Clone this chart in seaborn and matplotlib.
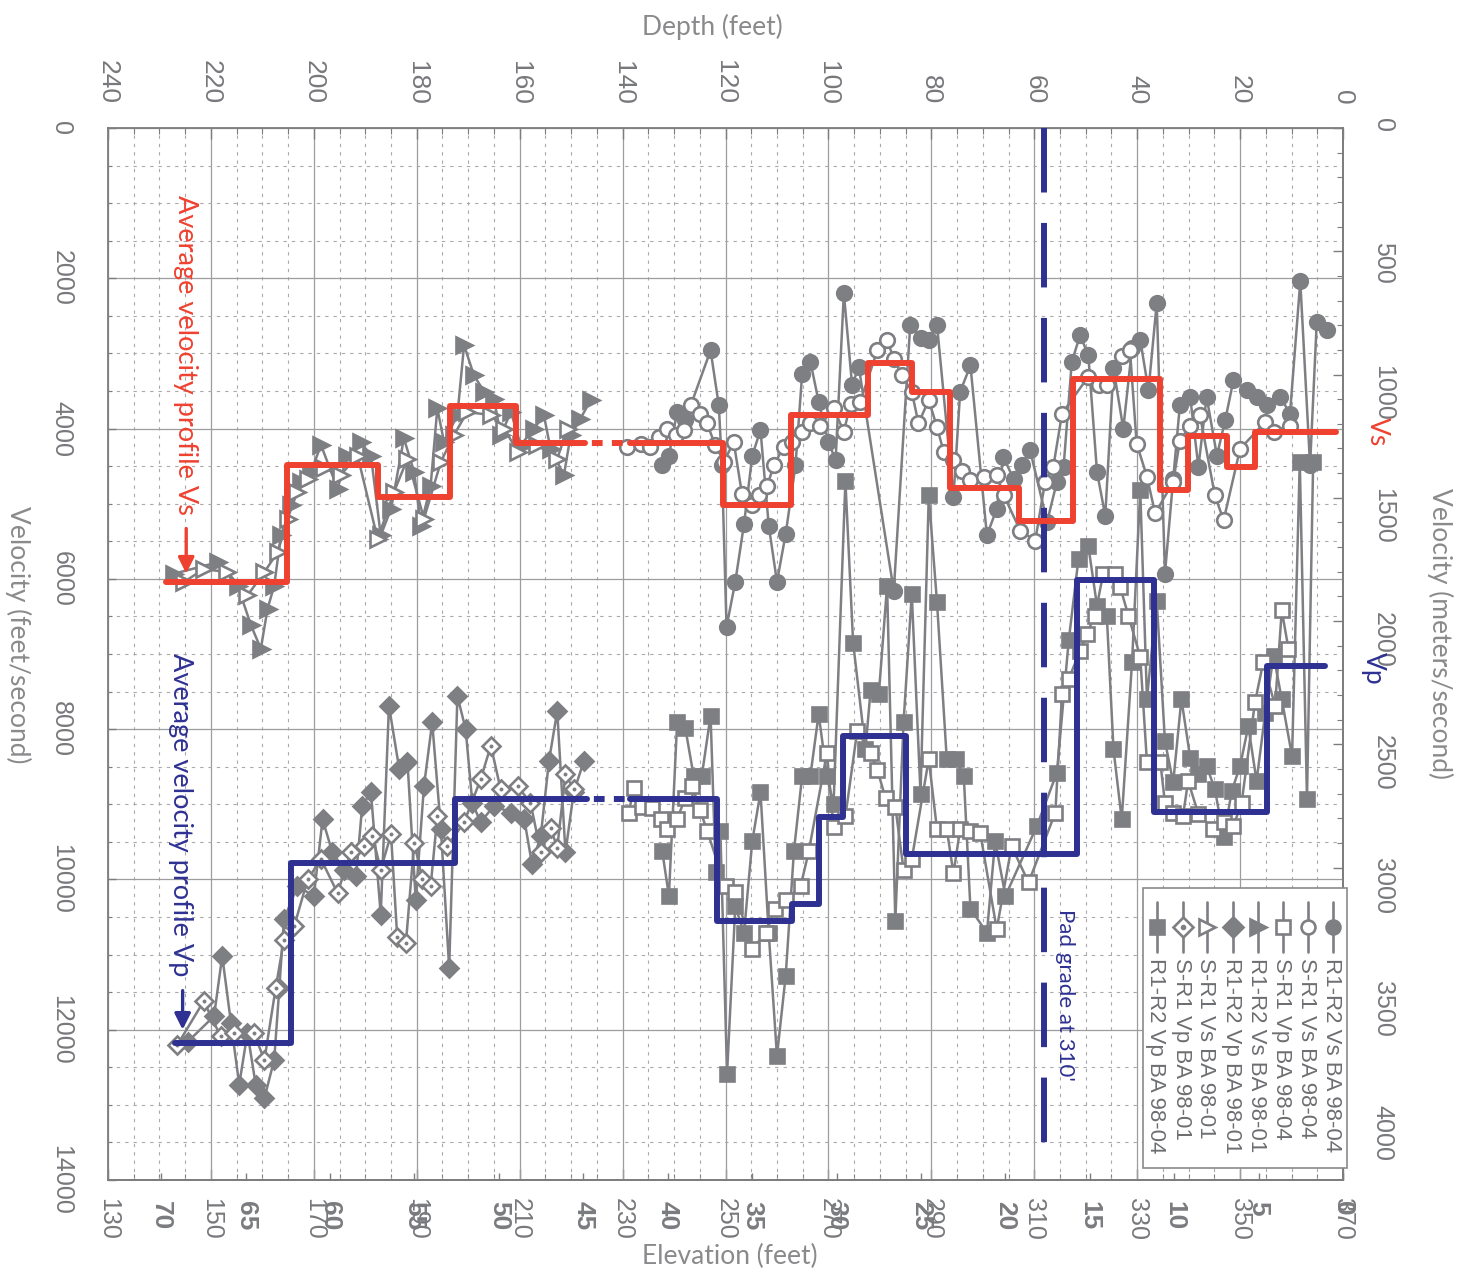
import numpy as np
import matplotlib
matplotlib.use("Agg")
import matplotlib.pyplot as plt
from matplotlib.lines import Line2D
from matplotlib.patches import Rectangle
from matplotlib.ticker import MultipleLocator, FixedLocator
import seaborn as sns

# ---------------------------------------------------------------- data
# Shear-wave (Vs) readings, borehole BA 98-01 (depth in feet, velocity in ft/s)
r1r2_vs_9801_depth = [227.1, 218.7, 214.8, 212.2, 210.3, 209.0, 207.7, 206.4, 204.5, 202.5, 200.6,
                      198.6, 195.4, 193.5, 190.9, 188.9, 187.0, 185.0, 182.5, 180.5, 179.2, 177.3,
                      176.0, 174.7, 172.1, 170.8, 168.9, 166.9, 165.0, 163.7, 161.7, 159.8, 157.2,
                      155.3, 154.0, 151.4, 150.1, 148.2, 146.2]
r1r2_vs_9801_vel = [5930, 5780, 6090, 6620, 6930, 6400, 6090, 5420, 5020, 4710, 4580,
                    4220, 4800, 4360, 4180, 4360, 5420, 5070, 4130, 4580, 5290, 4760,
                    3730, 4180, 3820, 2890, 3290, 3510, 3600, 4090, 3780, 4220, 4000,
                    3820, 4270, 4620, 4090, 3870, 3620]

sr1_vs_9801_depth = [225.2, 221.4, 216.8, 212.9, 209.6, 207.0, 205.1, 203.2, 201.2, 198.0, 194.8,
                     191.5, 187.6, 184.4, 181.8, 178.6, 175.3, 172.8, 170.2, 165.6, 163.0, 160.4,
                     156.6, 152.7, 150.7]
sr1_vs_9801_vel = [6040, 5870, 5910, 6220, 5910, 5640, 5200, 4840, 4670, 4530, 4620,
                   4360, 5470, 4840, 4400, 5200, 4440, 4090, 3780, 3820, 4000, 4310,
                   4220, 4400, 4000]

# Shear-wave (Vs) readings, borehole BA 98-04
r1r2_vs_9804_depth = [132.3, 131.0, 129.4, 127.8, 122.9, 121.3, 120.7, 119.8, 118.1, 116.4, 114.8,
                      113.2, 111.6, 110.0, 108.3, 106.4, 105.1, 103.5, 101.9, 100.0, 98.6, 97.0,
                      95.4, 94.1, 87.3, 84.1, 82.1, 80.5, 78.9, 75.7, 74.4, 72.4, 69.2, 67.3,
                      66.0, 64.0, 62.4, 60.8, 57.5, 55.6, 54.3, 52.7, 51.1, 49.5, 47.8, 46.2,
                      44.6, 42.7, 41.0, 39.4, 37.8, 36.2, 34.6, 33.0, 31.7, 29.7, 28.1, 26.5,
                      24.5, 22.9, 21.3, 18.7, 16.8, 14.8, 12.2, 10.3, 8.3, 6.4, 5.1, 3.2]
r1r2_vs_9804_vel = [4490, 4360, 3780, 3890, 2960, 3690, 4490, 6640, 6040, 5270, 4360,
                    4020, 5290, 6040, 5400, 4490, 3270, 3110, 3640, 4180, 4420, 2200,
                    3420, 3180, 6160, 2620, 2800, 2820, 2620, 4910, 3510, 3160, 5420, 5070,
                    4380, 4670, 4490, 4290, 5240, 4710, 4510, 3110, 2760, 3020, 4580, 5160,
                    3200, 4000, 2930, 2820, 3490, 2330, 5930, 4670, 3690, 3580, 4510, 3580,
                    4360, 3890, 3360, 3490, 3580, 3690, 3580, 3800, 2040, 4490, 2580, 2690]

sr1_vs_9804_depth = [139.1, 136.5, 134.6, 132.9, 131.3, 129.7, 128.1, 126.8, 124.9, 123.6, 122.0,
                     120.3, 118.4, 116.8, 114.8, 113.5, 111.9, 110.6, 108.7, 107.1, 105.1, 103.5,
                     101.6, 99.0, 97.0, 95.7, 93.8, 90.5, 88.6, 87.3, 85.7, 83.8, 82.5, 80.5,
                     78.9, 77.6, 75.7, 74.1, 72.4, 69.8, 67.3, 65.9, 62.7, 59.8, 57.9, 56.3,
                     54.6, 49.5, 47.5, 45.9, 43.0, 41.4, 40.1, 38.1, 36.5, 33.0, 31.7, 29.7,
                     27.8, 24.9, 23.2, 20.0, 15.1, 13.5, 10.3]
sr1_vs_9804_vel = [4240, 4200, 4240, 4110, 4000, 4090, 4020, 3690, 3800, 3930, 4220,
                   4440, 4180, 4870, 5020, 4890, 4760, 4490, 4240, 4180, 4040, 3930,
                   3960, 3730, 4040, 3670, 3640, 2960, 2820, 3070, 3290, 3510, 3930, 3620,
                   3980, 4310, 4420, 4560, 4690, 4640, 4620, 4890, 5360, 5490, 4710, 4510,
                   3800, 3310, 3420, 3420, 3040, 2960, 4200, 4640, 5130, 4710, 4160, 3960,
                   3820, 4890, 5220, 4270, 3910, 4040, 3960]

# Compression-wave (Vp) readings, borehole BA 98-01
r1r2_vp_9801_depth = [224.5, 219.4, 217.8, 216.1, 214.5, 212.9, 211.3, 209.6, 207.7, 206.7, 205.8,
                      203.2, 200.0, 198.3, 196.4, 194.1, 191.8, 190.6, 188.9, 187.0, 185.4, 183.4,
                      181.8, 180.2, 178.6, 177.0, 175.3, 173.7, 172.1, 170.5, 169.2, 167.6, 165.0,
                      161.7, 159.1, 157.6, 155.9, 154.3, 152.7, 151.1, 149.5, 147.5]
r1r2_vp_9801_vel = [12160, 11820, 11020, 11910, 12730, 12040, 12730, 12910, 12400, 11440, 10530,
                    10090, 10220, 9200, 9640, 9870, 9960, 9020, 8840, 10470, 7690, 8530,
                    8440, 10270, 8760, 7910, 9330, 11180, 7560, 8000, 8980, 9240, 9020,
                    9110, 9200, 9800, 9420, 8420, 7760, 9640, 8840, 8420]

sr1_vp_9801_depth = [226.5, 221.4, 218.1, 215.5, 211.7, 209.6, 207.4, 205.8, 203.8, 201.2, 198.6,
                     195.4, 192.8, 190.2, 188.6, 187.0, 185.0, 183.8, 182.1, 180.5, 178.9, 177.3,
                     176.0, 174.1, 170.8, 167.6, 165.6, 163.7, 160.4, 157.9, 155.9, 154.0, 152.7,
                     151.1, 149.5]
sr1_vp_9801_vel = [12200, 11620, 12090, 12040, 12040, 12400, 11440, 10800, 10620, 10000, 9730,
                   10180, 9640, 9560, 9420, 9870, 9400, 10760, 10840, 9510, 10000, 10090,
                   9160, 9560, 9240, 8670, 8220, 8800, 8760, 8980, 9640, 9310, 9580,
                   8600, 8800]

# Compression-wave (Vp) readings, borehole BA 98-04
sr1_vp_9804_depth = [138.8, 137.8, 136.2, 134.2, 132.6, 131.3, 129.4, 127.8, 126.5, 124.9, 123.6,
                     120.0, 118.1, 114.8, 112.2, 110.3, 108.3, 105.4, 103.8, 100.3, 99.0, 96.7,
                     94.4, 91.8, 90.5, 88.9, 87.0, 85.4, 83.8, 80.5, 78.9, 77.0, 75.7, 74.4,
                     72.4, 70.5, 67.3, 64.4, 61.1, 55.9, 54.6, 53.3, 51.1, 49.8, 48.2, 46.6,
                     44.3, 43.3, 41.7, 39.4, 38.1, 35.5, 34.6, 33.0, 31.1, 30.1, 28.1, 25.2,
                     23.2, 21.3, 19.7, 17.1, 15.5, 13.2, 11.9, 10.6]
sr1_vp_9804_vel = [9110, 8780, 9030, 9050, 9190, 9330, 9190, 8920, 8750, 9080, 9350,
                   10090, 10170, 10930, 10710, 10390, 10280, 10090, 9620, 8320, 9300, 9160,
                   8020, 8320, 8540, 8920, 9030, 9870, 9730, 8400, 9330, 9330, 9920, 9330,
                   9350, 9380, 10660, 9560, 10040, 9110, 7530, 7330, 6960, 6730, 6490, 5930,
                   5930, 6110, 6490, 7040, 8440, 8440, 8980, 9110, 9160, 8690, 9130, 9330,
                   9240, 9290, 8980, 7640, 7110, 7690, 6420, 6930]

r1r2_vp_9804_depth = [132.3, 131.0, 129.4, 127.8, 126.2, 124.6, 122.9, 121.9, 121.0, 119.7, 118.1,
                      116.4, 114.8, 113.2, 111.6, 110.0, 108.3, 106.7, 105.1, 103.5, 101.9, 100.3,
                      99.0, 96.7, 95.2, 92.8, 91.8, 90.2, 88.6, 87.0, 85.4, 83.8, 82.1, 80.5,
                      78.9, 77.0, 75.3, 73.7, 72.4, 69.2, 67.6, 65.6, 59.5, 55.6, 53.3, 51.4,
                      49.5, 47.8, 45.9, 44.6, 43.0, 41.0, 39.4, 38.1, 36.2, 34.6, 33.0, 31.4,
                      29.7, 28.1, 26.5, 24.9, 23.2, 21.6, 20.0, 18.4, 16.8, 15.1, 13.5, 11.9,
                      9.9, 8.4, 7.0, 5.8]
r1r2_vp_9804_vel = [9620, 10220, 7910, 7990, 8620, 8620, 7820, 9900, 9350, 12590, 10360,
                    10710, 9490, 8840, 10710, 12350, 11280, 9620, 8620, 8620, 7800, 8620,
                    9000, 4700, 6850, 8260, 7480, 7530, 6090, 10550, 7910, 6200, 8860, 4890,
                    6310, 8400, 8400, 8620, 10390, 10710, 9490, 10220, 9290, 8580, 6820, 5730,
                    5560, 6360, 6490, 8270, 9200, 7110, 4820, 7600, 6290, 8160, 8710, 7600,
                    8380, 8600, 8490, 8800, 9440, 8820, 8490, 7960, 8690, 7780, 7020, 7600,
                    8360, 4440, 8930, 4440]

# Average layered profiles: layer-boundary depths (ft) and layer velocities (ft/s)
vs_avg_deep_depth = [228.7, 205.3, 187.5, 173.5, 160.8, 147.3]
vs_avg_deep_vel = [6040, 4485, 4907, 3700, 4192]
vs_avg_shallow_depth = [138.6, 120.5, 107.3, 92.3, 83.8, 76.4, 63.0, 52.5, 35.6, 30.1, 22.6, 17.1, 1.4]
vs_avg_shallow_vel = [4192, 5017, 3820, 3127, 3509, 4795, 5226, 3344, 4818, 4095, 4516, 4050]

vp_avg_deep_depth = [227.0, 204.5, 172.6, 146.9]
vp_avg_deep_vel = [12173, 9786, 8930]
vp_avg_shallow_depth = [138.6, 121.7, 107.1, 101.9, 97.2, 84.9, 51.7, 36.7, 14.8, 3.5]
vp_avg_shallow_vel = [8930, 10556, 10327, 9171, 8085, 9661, 6015, 9099, 7160]

pad_grade_depth = 58.2

depth_ticks = list(range(240, -1, -20))
vel_ft_ticks = list(range(0, 14001, 2000))
vel_m_ticks = list(range(0, 4001, 500))
elev_ft_ticks = list(range(130, 371, 20))
elev_m_ticks = list(range(70, -1, -5))

legend_labels = ["R1-R2 Vs BA 98-04", "S-R1 Vs BA 98-04", "S-R1 Vp BA 98-04",
                 "R1-R2 Vs BA 98-01", "R1-R2 Vp BA 98-01", "S-R1 Vs BA 98-01",
                 "S-R1 Vp BA 98-01", "R1-R2 Vp BA 98-04"]

# ---------------------------------------------------------------- style
sns.set_theme(style="white")
plt.rcParams["font.family"] = ["Liberation Sans", "DejaVu Sans"]

GRAY = "#7e7f83"
TXT = "#77787b"
RED = "#ef4130"
NAVY = "#2e3192"
TITLE_FONT = ["Lato", "DejaVu Sans"]

W, H = 1464, 1277
fig = plt.figure(figsize=(W / 100, H / 100), dpi=100)
fig.patch.set_facecolor("white")
ax = fig.add_axes([108 / W, (H - 1180) / H, 1235 / W, 1052 / H])
ax.set_facecolor("white")


def fx(px):
    return px / W


def fy(py):
    return 1 - py / H


MEW = 1.9


def draw_series(depth, vel, marker, filled, ms, dot=False):
    face = GRAY if filled else "white"
    sns.lineplot(x=depth, y=vel, ax=ax, sort=False, estimator=None, color=GRAY,
                 linewidth=1.8, marker=marker, markersize=ms, markerfacecolor=face,
                 markeredgecolor=GRAY, markeredgewidth=MEW, legend=False, zorder=3)
    if dot:
        sns.scatterplot(x=depth, y=vel, ax=ax, color=GRAY, s=8, linewidth=0,
                        legend=False, zorder=3.1)


# Vp series
draw_series(r1r2_vp_9801_depth, r1r2_vp_9801_vel, "D", True, 9.5)
draw_series(sr1_vp_9801_depth, sr1_vp_9801_vel, "D", False, 9.5, dot=True)
draw_series(r1r2_vp_9804_depth, r1r2_vp_9804_vel, "s", True, 9.5)
draw_series(sr1_vp_9804_depth, sr1_vp_9804_vel, "s", False, 9.5)
# Vs series
draw_series(r1r2_vs_9801_depth, r1r2_vs_9801_vel, ">", True, 11.5)
draw_series(sr1_vs_9801_depth, sr1_vs_9801_vel, ">", False, 11.5)
draw_series(r1r2_vs_9804_depth, r1r2_vs_9804_vel, "o", True, 10.5)
draw_series(sr1_vs_9804_depth, sr1_vs_9804_vel, "o", False, 10.5)

# Average layered profiles
PROF_LW = 4.3


def draw_profile(depth, vel, color):
    sns.lineplot(x=depth, y=list(vel) + [vel[-1]], ax=ax, sort=False, estimator=None,
                 color=color, linewidth=PROF_LW, drawstyle="steps-post", legend=False,
                 zorder=5)


def draw_gap(d0, d1, v, color):
    ax.plot([d0, d1], [v, v], color=color, lw=PROF_LW, solid_capstyle="butt",
            dash_capstyle="butt", linestyle=(2.2, (1.8, 1.55)), zorder=5)


draw_profile(vs_avg_deep_depth, vs_avg_deep_vel, RED)
draw_profile(vs_avg_shallow_depth, vs_avg_shallow_vel, RED)
draw_gap(vs_avg_deep_depth[-1], vs_avg_shallow_depth[0], vs_avg_deep_vel[-1], RED)
draw_profile(vp_avg_deep_depth, vp_avg_deep_vel, NAVY)
draw_profile(vp_avg_shallow_depth, vp_avg_shallow_vel, NAVY)
draw_gap(vp_avg_deep_depth[-1], vp_avg_shallow_depth[0], vp_avg_deep_vel[-1], NAVY)

# Pad grade marker
ax.plot([pad_grade_depth, pad_grade_depth], [0, 13550], color=NAVY, lw=4.3,
        linestyle=(0, (10.8, 5.1)), dash_capstyle="butt", zorder=4.5)

# ---------------------------------------------------------------- axes
ax.set_xlim(240, 0)
ax.set_ylim(14000, 0)
ax.set_xlabel("")
ax.set_ylabel("")

ax.xaxis.set_major_locator(FixedLocator(depth_ticks))
ax.xaxis.set_minor_locator(MultipleLocator(5))
ax.yaxis.set_major_locator(FixedLocator(vel_ft_ticks))
ax.yaxis.set_minor_locator(MultipleLocator(500))
ax.grid(which="major", color="#9d9d9f", lw=0.9, ls="-", zorder=0)
ax.grid(which="minor", color="#a9a9ab", lw=0.8, ls=(0, (3, 4.5)), zorder=0)
ax.set_axisbelow(True)

ax.xaxis.set_ticks_position("top")
ax.set_xticklabels([str(t) for t in depth_ticks])
ax.tick_params(axis="x", which="major", direction="in", length=8, width=1, color="#7d7d7d",
               labelsize=19, labelcolor=TXT, pad=17, labelrotation=270)
ax.tick_params(axis="x", which="minor", direction="in", length=4, width=0.8, color="#7d7d7d")
ax.set_yticklabels([str(t) for t in vel_ft_ticks])
ax.tick_params(axis="y", which="major", direction="in", length=6, width=1, color="#7d7d7d",
               labelsize=18, labelcolor=TXT, pad=25, labelrotation=270, left=True)
ax.tick_params(axis="y", which="minor", direction="in", length=3, width=0.8, color="#7d7d7d",
               left=True)
for lab in ax.get_yticklabels():
    lab.set_verticalalignment("center")

for side in ["top", "left", "right", "bottom"]:
    ax.spines[side].set_visible(True)
    ax.spines[side].set_color("#7d7d7d")
    ax.spines[side].set_linewidth(1.3)

# Right axis in metres per second
sec_y = ax.secondary_yaxis("right", functions=(lambda v: v * 0.3048, lambda m: m / 0.3048))
sec_y.yaxis.set_major_locator(FixedLocator(vel_m_ticks))
sec_y.yaxis.set_minor_locator(MultipleLocator(100))
sec_y.set_yticklabels([str(t) for t in vel_m_ticks])
sec_y.tick_params(axis="y", which="major", direction="in", length=7, width=1, color="#7d7d7d",
                  labelsize=18, labelcolor=TXT, pad=20, labelrotation=270)
sec_y.tick_params(axis="y", which="minor", direction="in", length=4, width=0.8, color="#7d7d7d")
sec_y.spines["right"].set_color("#7d7d7d")
sec_y.spines["right"].set_linewidth(1.3)

# Bottom axes: elevation in feet and depth in metres share the same strip
sec_ft = ax.secondary_xaxis("bottom", functions=(lambda d: 370 - d, lambda e: 370 - e))
sec_ft.xaxis.set_major_locator(FixedLocator(elev_ft_ticks))
sec_ft.xaxis.set_minor_locator(MultipleLocator(5))
sec_ft.set_xticklabels([str(t) for t in elev_ft_ticks])
sec_ft.tick_params(axis="x", which="major", direction="in", length=8, width=1, color="#7d7d7d",
                   labelsize=18, labelcolor=TXT, pad=13, labelrotation=270)
sec_ft.tick_params(axis="x", which="minor", direction="in", length=4, width=0.8, color="#7d7d7d")
sec_ft.spines["bottom"].set_color("#7d7d7d")
sec_ft.spines["bottom"].set_linewidth(1.3)

sec_m = ax.secondary_xaxis("bottom", functions=(lambda d: d / 3.2808, lambda m: m * 3.2808))
sec_m.xaxis.set_major_locator(FixedLocator(elev_m_ticks))
sec_m.set_xticklabels([str(t) for t in elev_m_ticks])
sec_m.tick_params(axis="x", which="major", direction="in", length=5, width=1, color="#7d7d7d",
                  labelsize=19, labelcolor="#7a7b7e", pad=15, labelrotation=270)
for lab in sec_m.get_xticklabels():
    lab.set_fontweight("bold")
sec_m.spines["bottom"].set_visible(False)

# Axis titles
fig.text(fx(712), fy(27), "Depth (feet)", ha="center", va="center", fontsize=19,
         color="#8a8a8d", family=TITLE_FONT)
fig.text(fx(730), fy(1256), "Elevation (feet)", ha="center", va="center", fontsize=19,
         color="#8a8a8d", family=TITLE_FONT)
fig.text(fx(18), fy(635), "Velocity (feet/second)", ha="center", va="center", rotation=270,
         fontsize=19, color="#8a8a8d", family=TITLE_FONT)
fig.text(fx(1440), fy(634), "Velocity (meters/second)", ha="center", va="center", rotation=270,
         fontsize=19, color="#8a8a8d", family=TITLE_FONT)
fig.text(fx(1377), fy(432), "Vs", ha="center", va="center", rotation=270, fontsize=19,
         color=RED, family=TITLE_FONT)
fig.text(fx(1373), fy(668), "Vp", ha="center", va="center", rotation=270, fontsize=19,
         color=NAVY, family=TITLE_FONT)

# Profile annotations
ax.text(225.0, 890, "Average velocity profile Vs", rotation=270, ha="center", va="top",
        fontsize=19.5, color=RED, family=TITLE_FONT, zorder=6)
ax.annotate("", xy=(224.8, 5930), xytext=(224.8, 5330),
            arrowprops=dict(arrowstyle="-|>", color=RED, lw=2.4, mutation_scale=24,
                            shrinkA=0, shrinkB=0), zorder=6)
ax.text(226.0, 6990, "Average velocity profile Vp", rotation=270, ha="center", va="top",
        fontsize=19.5, color=NAVY, family=TITLE_FONT, zorder=6)
ax.annotate("", xy=(225.5, 12000), xytext=(225.5, 11480),
            arrowprops=dict(arrowstyle="-|>", color=NAVY, lw=2.4, mutation_scale=24,
                            shrinkA=0, shrinkB=0), zorder=6)
ax.text(54.0, 10400, "Pad grade at 310'", rotation=270, ha="center", va="top",
        fontsize=16, color=NAVY, family=TITLE_FONT, zorder=6)

# ---------------------------------------------------------------- legend
ax.add_patch(Rectangle((0.838, 0.0114), 0.165, 0.2662, transform=ax.transAxes,
                       facecolor="white", edgecolor="#8a8a8d", lw=1.2, zorder=7,
                       clip_on=False))
legend_x = [0.9919, 0.9717, 0.9514, 0.9312, 0.9109, 0.8899, 0.8704, 0.8494]
legend_style = [("o", True), ("o", False), ("s", False), (">", True),
                ("D", True), (">", False), ("D", False), ("s", True)]
for xf, label, (mk, filled) in zip(legend_x, legend_labels, legend_style):
    ax.add_line(Line2D([xf, xf], [0.2643, 0.2167], transform=ax.transAxes, color=GRAY,
                       lw=1.9, zorder=8, clip_on=False))
    ax.add_line(Line2D([xf], [0.2405], transform=ax.transAxes, marker=mk,
                       markersize=10 if mk != ">" else 11,
                       markerfacecolor=GRAY if filled else "white", markeredgecolor=GRAY,
                       markeredgewidth=MEW, linestyle="none", zorder=9, clip_on=False))
    if label == "S-R1 Vp BA 98-01":
        ax.add_line(Line2D([xf], [0.2405], transform=ax.transAxes, marker="o",
                           markersize=3, color=GRAY, linestyle="none", zorder=10,
                           clip_on=False))
    ax.text(xf - 0.0015, 0.2115, label, transform=ax.transAxes, rotation=270, ha="center",
            va="top", fontsize=16, color="#6d6e71", zorder=9)

fig.savefig("out.png", dpi=100, facecolor="white")
